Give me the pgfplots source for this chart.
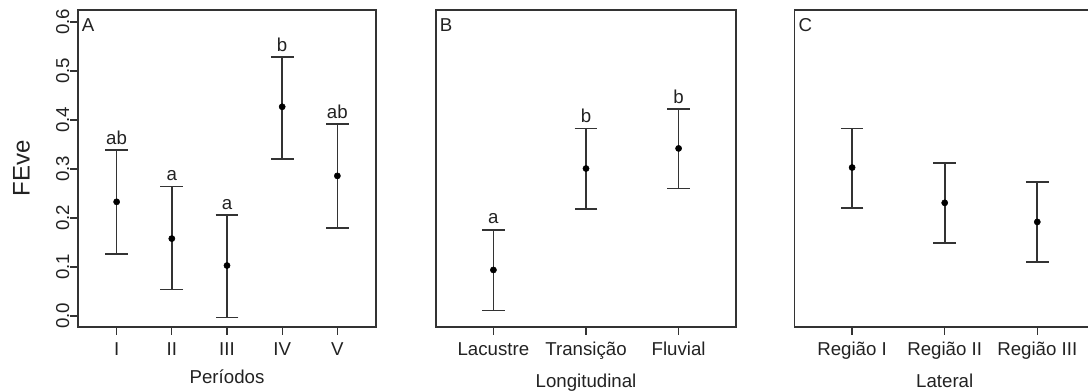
\documentclass[border=0pt]{standalone}
\usepackage{pgfplots}
\pgfplotsset{compat=1.18}
\usepackage{pgfplotstable}
\usepackage{fontspec}
\setmainfont{Liberation Sans}
\setsansfont{Liberation Sans}

\pgfplotstableread{
x y lo hi lab
1 0.233 0.127 0.339 ab
2 0.158 0.054 0.264 a
3 0.103 -0.003 0.206 a
4 0.427 0.320 0.529 b
5 0.286 0.180 0.392 ab
}\dataA
\pgfplotstableread{
x y lo hi lab
1 0.094 0.011 0.176 a
2 0.301 0.219 0.383 b
3 0.342 0.260 0.422 b
}\dataB
\pgfplotstableread{
x y lo hi
1 0.303 0.221 0.383
2 0.231 0.149 0.312
3 0.192 0.110 0.273
}\dataC

\definecolor{barcol}{HTML}{333333}
\definecolor{txt}{HTML}{222222}
\newcommand{\fs}{\fontsize{14}{16}\selectfont}

\pgfplotsset{
  panel/.style={
    scale only axis,
    height=317*0.75pt,
    ymin=-0.0224, ymax=0.6245,
    axis line style={line width=1.1pt, draw=barcol},
    tick style={line width=1pt, draw=barcol},
    xtick pos=bottom, ytick pos=left,
    tick align=outside,
    major tick length=6pt,
    xtick=data,
    tick label style={font=\fs, text=txt},
    label style={font=\fs, text=txt},
    xticklabel style={yshift=-2pt},
    xlabel style={yshift=-4pt},
    clip=false,
  },
  ci/.style={
    only marks, mark=*, mark size=2.3pt, mark options={fill=black, draw=black},
    error bars/.cd, y dir=both, y explicit,
    error bar style={line width=1.3pt, draw=barcol},
    error mark options={line width=1.2pt, draw=barcol, mark size=8.5pt, rotate=90},
  },
  letters/.style={only marks, mark=none, nodes near coords, point meta=explicit symbolic,
    nodes near coords style={anchor=south, inner sep=0pt, yshift=4pt, text=txt, font=\fs}},
}

\begin{document}
\begin{tikzpicture}
\clip (0,0) rectangle (1088*0.75pt, 392*0.75pt);
\path[use as bounding box] (0,0) rectangle (1088*0.75pt, 392*0.75pt);

% Panel A
\begin{axis}[panel,
  at={(78*0.75pt,65*0.75pt)}, anchor=south west,
  width=298*0.75pt,
  xmin=0.3, xmax=5.7,
  xticklabels={I,II,III,IV,V},
  ytick={0,0.1,0.2,0.3,0.4,0.5,0.6},
  yticklabels={0.0,0.1,0.2,0.3,0.4,0.5,0.6},
  yticklabel style={rotate=90, anchor=south, yshift=-3pt},
  ylabel={FEve},
  ylabel style={at={(axis description cs:-0.19,0.5)}, anchor=center, font=\fontsize{18}{20}\selectfont},
  xlabel={Períodos},
]
\addplot[ci] table[x=x, y=y, y error plus expr=\thisrow{hi}-\thisrow{y}, y error minus expr=\thisrow{y}-\thisrow{lo}] {\dataA};
\addplot[letters] table[x=x, y=hi, meta=lab] {\dataA};
\node[anchor=north west, inner sep=0pt, text=txt, font=\fs] at (rel axis cs:0.012,0.975) {A};
\end{axis}

% Panel B
\begin{axis}[panel,
  at={(436*0.75pt,65*0.75pt)}, anchor=south west,
  width=300*0.75pt,
  xmin=0.38, xmax=3.62,
  xticklabels={Lacustre,Transição,Fluvial},
  ytick=\empty,
  xlabel={Longitudinal},
]
\addplot[ci] table[x=x, y=y, y error plus expr=\thisrow{hi}-\thisrow{y}, y error minus expr=\thisrow{y}-\thisrow{lo}] {\dataB};
\addplot[letters] table[x=x, y=hi, meta=lab] {\dataB};
\node[anchor=north west, inner sep=0pt, text=txt, font=\fs] at (rel axis cs:0.012,0.975) {B};
\end{axis}

% Panel C
\begin{axis}[panel,
  at={(794.7*0.75pt,65*0.75pt)}, anchor=south west,
  width=300*0.75pt,
  xmin=0.38, xmax=3.62,
  xticklabels={Região I,Região II,Região III},
  ytick=\empty,
  xlabel={Lateral},
]
\addplot[ci] table[x=x, y=y, y error plus expr=\thisrow{hi}-\thisrow{y}, y error minus expr=\thisrow{y}-\thisrow{lo}] {\dataC};
\node[anchor=north west, inner sep=0pt, text=txt, font=\fs] at (rel axis cs:0.012,0.975) {C};
\end{axis}
\end{tikzpicture}
\end{document}
